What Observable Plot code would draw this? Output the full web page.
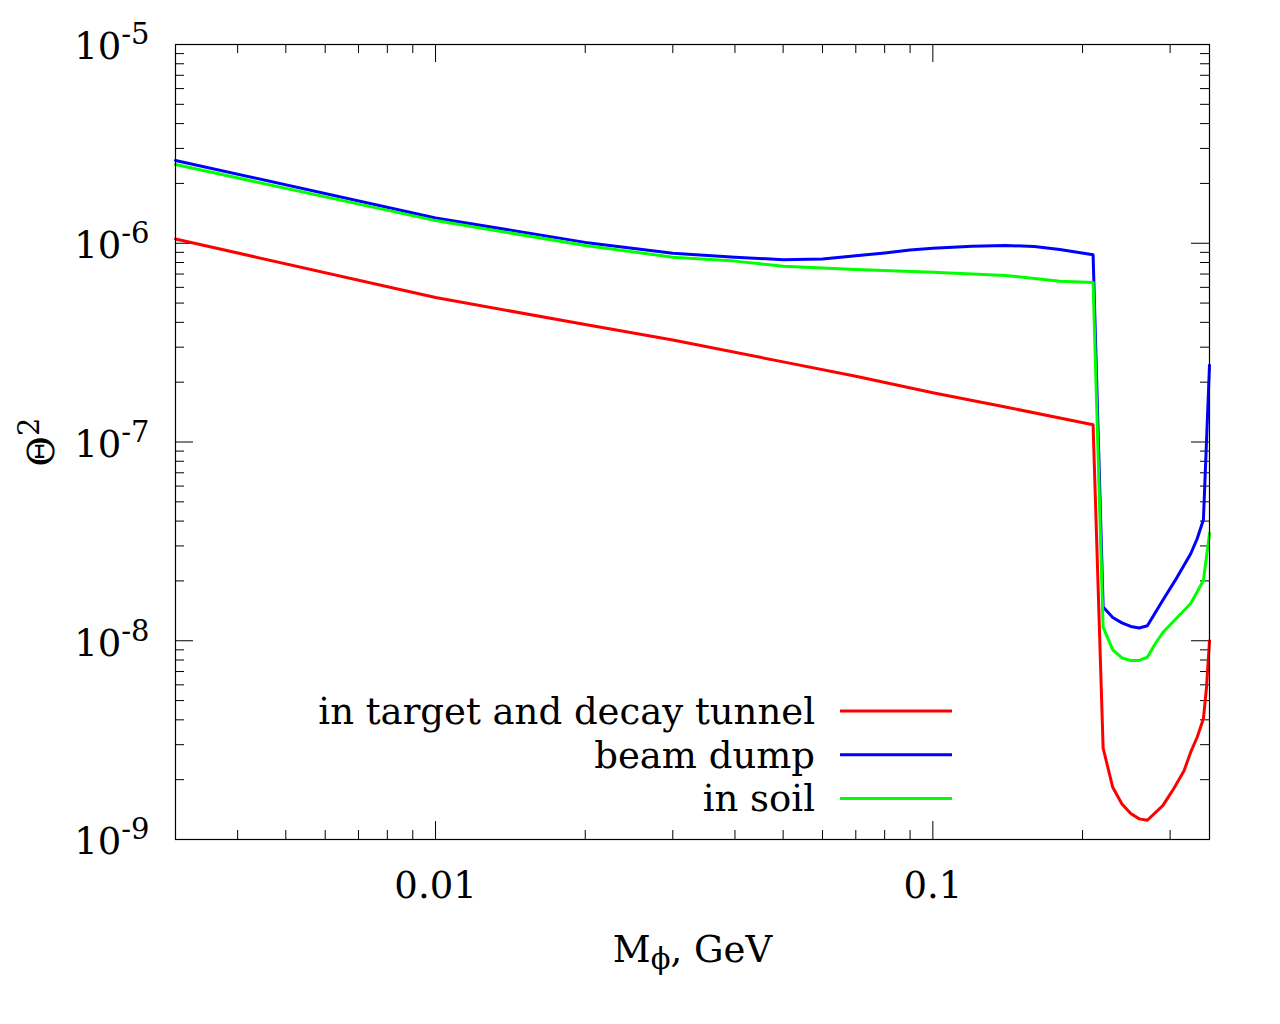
<!DOCTYPE html>
<html>
<head>
<meta charset="utf-8">
<script src="https://cdn.jsdelivr.net/npm/d3@7"></script>
<script src="https://cdn.jsdelivr.net/npm/@observablehq/plot@0.6"></script>
<style>
  body { margin: 0; background: #fff; }
  #chart { width: 1280px; height: 1024px; }
</style>
</head>
<body>
<div id="chart"></div>
<script>
// ---- data ----
const redMass   = [0.003,0.01,0.02,0.03,0.05,0.07,0.1,0.14,0.21,0.22,0.23,0.24,0.25,0.26,0.27,0.29,0.305,0.32,0.33,0.34,0.35,0.355,0.36];
const redTheta  = [1.05e-6,5.33e-7,3.90e-7,3.26e-7,2.53e-7,2.14e-7,1.77e-7,1.50e-7,1.22e-7,2.88e-9,1.83e-9,1.51e-9,1.35e-9,1.27e-9,1.25e-9,1.48e-9,1.80e-9,2.22e-9,2.75e-9,3.27e-9,4.05e-9,5.8e-9,1.0e-8];

const blueMass  = [0.003,0.01,0.02,0.03,0.04,0.05,0.06,0.07,0.08,0.09,0.1,0.12,0.14,0.16,0.18,0.21,0.22,0.23,0.24,0.25,0.26,0.27,0.29,0.31,0.33,0.34,0.35,0.36];
const blueTheta = [2.61e-6,1.34e-6,1.01e-6,8.91e-7,8.51e-7,8.26e-7,8.34e-7,8.64e-7,8.94e-7,9.24e-7,9.45e-7,9.67e-7,9.75e-7,9.63e-7,9.30e-7,8.75e-7,1.48e-8,1.31e-8,1.23e-8,1.18e-8,1.16e-8,1.19e-8,1.60e-8,2.09e-8,2.74e-8,3.26e-8,4.06e-8,2.43e-7];

const greenMass  = [0.003,0.01,0.02,0.03,0.04,0.05,0.07,0.1,0.14,0.18,0.21,0.22,0.23,0.24,0.25,0.26,0.27,0.28,0.29,0.31,0.33,0.34,0.35,0.36];
const greenTheta = [2.49e-6,1.30e-6,9.75e-7,8.51e-7,8.13e-7,7.67e-7,7.38e-7,7.15e-7,6.89e-7,6.44e-7,6.35e-7,1.17e-8,9.0e-9,8.2e-9,7.96e-9,7.96e-9,8.26e-9,9.66e-9,1.10e-8,1.31e-8,1.54e-8,1.76e-8,2.01e-8,3.47e-8];

const seriesNames  = ["in target and decay tunnel", "beam dump", "in soil"];
const seriesColors = ["#ff0000", "#0000ff", "#00ff00"];

const xMajor = [0.01, 0.1];
const xMinor = [0.004,0.005,0.006,0.007,0.008,0.009,0.02,0.03,0.04,0.05,0.06,0.07,0.08,0.09,0.2,0.3];
const yMajor = [1e-9, 1e-8, 1e-7, 1e-6, 1e-5];
const yMinorMult = [2,3,4,5,6,7,8,9];
const xDomain = [0.003, 0.36];
const yDomain = [1e-9, 1e-5];
const xLabel = "M";
const xLabelSub = "\u03D5";
const xLabelRest = ", GeV";
const yLabel = "\u0398";
const yLabelSup = "2";

// ---- build ----
const toRows = (name, ms, ts) => ms.map((m, i) => ({series: name, m, t: ts[i]}));
const rows = [
  ...toRows(seriesNames[0], redMass, redTheta),
  ...toRows(seriesNames[1], blueMass, blueTheta),
  ...toRows(seriesNames[2], greenMass, greenTheta)
];
const yMinor = yMajor.slice(0, -1).flatMap(d => yMinorMult.map(k => k * d));

const W = 1280, H = 1024, mL = 175, mR = 71, mT = 44, mB = 185;
const fw = W - mL - mR, fh = H - mT - mB;
const major = 18, minor = 9;
const FS = 37, SFS = 29;

const plot = Plot.plot({
  width: W, height: H,
  marginLeft: mL, marginRight: mR, marginTop: mT, marginBottom: mB,
  x: {type: "log", domain: xDomain},
  y: {type: "log", domain: yDomain},
  color: {domain: seriesNames, range: seriesColors},
  style: {fontFamily: "'DejaVu Serif', serif", fontSize: FS + "px", background: "#fff", color: "#000"},
  marks: [
    // inward ticks, mirrored on all sides
    Plot.tickX(xMajor, {x: d => d, insetTop: fh - major, stroke: "#000"}),
    Plot.tickX(xMajor, {x: d => d, insetBottom: fh - major, stroke: "#000"}),
    Plot.tickX(xMinor, {x: d => d, insetTop: fh - minor, stroke: "#000"}),
    Plot.tickX(xMinor, {x: d => d, insetBottom: fh - minor, stroke: "#000"}),
    Plot.tickY(yMajor, {y: d => d, insetRight: fw - major, stroke: "#000"}),
    Plot.tickY(yMajor, {y: d => d, insetLeft: fw - major, stroke: "#000"}),
    Plot.tickY(yMinor, {y: d => d, insetRight: fw - minor, stroke: "#000"}),
    Plot.tickY(yMinor, {y: d => d, insetLeft: fw - minor, stroke: "#000"}),
    Plot.line(rows, {x: "m", y: "t", z: "series", stroke: "series", strokeWidth: 3, strokeLinejoin: "round"}),
    Plot.frame({stroke: "#000", strokeWidth: 1.2}),
    Plot.axisX(xMajor, {tickSize: 0, tickPadding: 32, tickFormat: d => String(d), fontSize: FS, label: null}),
    Plot.axisY(yMajor, {tickSize: 0, tickPadding: 26, dy: 3, tickFormat: d => String(Math.round(Math.log10(d))), fontSize: FS, label: null}),
    Plot.text([xLabel], {frameAnchor: "bottom", textAnchor: "middle", lineAnchor: "middle", dy: 111, fontSize: FS}),
    Plot.text([yLabel], {frameAnchor: "left", textAnchor: "middle", lineAnchor: "middle", dx: -133, rotate: -90, fontSize: FS})
  ]
});

document.getElementById("chart").appendChild(plot);
const svg = d3.select(plot);

// superscripted y tick labels: 10^n
svg.selectAll('g[aria-label="y-axis tick label"] text').each(function() {
  const exp = this.textContent.replace("\u2212", "-");
  const t = d3.select(this);
  t.text("");
  t.append("tspan").text("10");
  t.append("tspan").attr("font-size", SFS).attr("dy", -15).text(exp);
});

// x label with subscript phi, y label with superscript 2
svg.selectAll("text").each(function() {
  const t = d3.select(this);
  if (this.textContent === xLabel) {
    t.text("");
    t.append("tspan").text(xLabel);
    t.append("tspan").attr("font-size", SFS).attr("dy", 7).text(xLabelSub);
    t.append("tspan").attr("dy", -7).text(xLabelRest);
  } else if (this.textContent === yLabel) {
    t.text("");
    t.append("tspan").text(yLabel);
    t.append("tspan").attr("font-size", SFS).attr("dy", -15).text(yLabelSup);
  }
});

// legend (inside the frame, gnuplot style)
const lg = svg.append("g").attr("aria-label", "legend").attr("font-size", FS);
seriesNames.forEach((name, i) => {
  const y = 711 + i * 43.7;
  lg.append("text").attr("x", 815).attr("y", y + 13).attr("text-anchor", "end").text(name);
  lg.append("line").attr("x1", 840).attr("x2", 952).attr("y1", y).attr("y2", y)
    .attr("stroke", seriesColors[i]).attr("stroke-width", 3);
});
</script>
</body>
</html>
